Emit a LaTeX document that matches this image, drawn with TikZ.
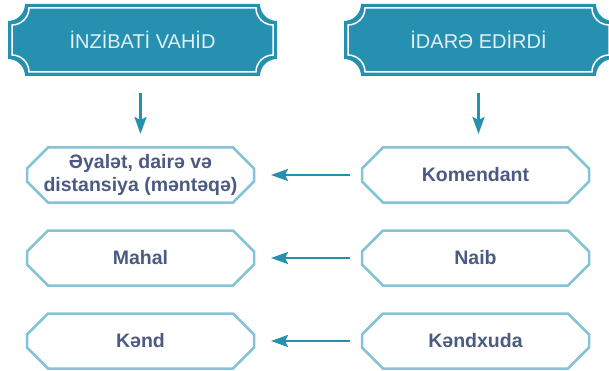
\documentclass[tikz,border=0pt]{standalone}
\usepackage{fontspec}
\setmainfont{Liberation Sans}
\usetikzlibrary{arrows.meta}
\definecolor{hdrblue}{HTML}{2690B1}
\definecolor{hdrtext}{HTML}{E2F0F5}
\definecolor{boxline}{HTML}{86C3D6}
\definecolor{boxtext}{HTML}{4B5A82}

\begin{document}
\begin{tikzpicture}[x=1pt,y=-1pt,
    hdr/.style={minimum width=269pt, minimum height=72pt, inner sep=0pt, outer sep=0pt, text=hdrtext, font=\fontsize{20}{24}\selectfont},
    unit/.style={minimum width=227pt, minimum height=55pt, inner sep=0pt, outer sep=0pt, align=center, text=boxtext, font=\fontsize{19.5}{23.5}\selectfont\bfseries},
    octa/.style={draw=boxline, line width=2.5pt},
    link/.style={draw=hdrblue, line width=2.5pt, -{Stealth[length=17pt,width=12pt,inset=3pt]}}]
    \useasboundingbox (0,0) rectangle (609,371);

    % Header plates with hollow corners
    \foreach \xa/\xb in {8/277, 344/613} {
        \fill[hdrblue] (\xa,21) arc[start angle=90,end angle=0,radius=17] -- (\xb-17,4)
            arc[start angle=180,end angle=90,radius=17] -- (\xb,59)
            arc[start angle=270,end angle=180,radius=17] -- (\xa+17,76)
            arc[start angle=0,end angle=-90,radius=17] -- cycle;
        \draw[white, line width=1.5pt] (\xa+4,25) arc[start angle=90,end angle=0,radius=17] -- (\xb-21,8)
            arc[start angle=180,end angle=90,radius=17] -- (\xb-4,55)
            arc[start angle=270,end angle=180,radius=17] -- (\xa+21,72)
            arc[start angle=0,end angle=-90,radius=17] -- cycle;
    }
    \node[hdr] (adm) at (142.5,40) {İNZİBATİ VAHİD};
    \node[hdr] (gov) at (478.5,40) {İDARƏ EDİRDİ};

    % Units and who ran them
    \node[unit] (a1) at (140.5,175) {Əyalət, dairə və\\distansiya (məntəqə)};
    \node[unit] (a2) at (140.5,258) {Mahal};
    \node[unit] (a3) at (140.5,341) {Kənd};
    \node[unit] (b1) at (475.5,175) {Komendant};
    \node[unit] (b2) at (475.5,258) {Naib};
    \node[unit] (b3) at (475.5,341) {Kəndxuda};

    % Cut-corner frames
    \foreach \n in {a1,a2,a3,b1,b2,b3}
        \draw[octa] (\n.west) -- ++(0,-6.5) -- ++(21,-21) -- ++(185,0) -- ++(21,21) -- ++(0,13)
            -- ++(-21,21) -- ++(-185,0) -- ++(-21,-21) -- cycle;

    % Arrows
    \draw[link, shorten <=17pt, shorten >=13.5pt] (adm.south -| a1.north) -- (a1.north);
    \draw[link, shorten <=17pt, shorten >=13.5pt] (gov.south) -- (gov.south |- b1.north);
    \foreach \i in {1,2,3}
        \draw[link, shorten <=12pt, shorten >=17pt] (b\i.west) -- (a\i.east);
\end{tikzpicture}
\end{document}
